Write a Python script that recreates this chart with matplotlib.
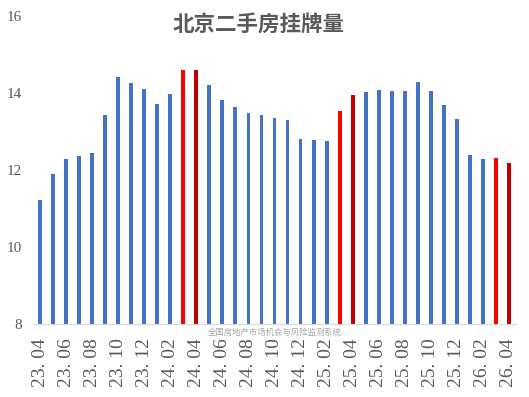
import matplotlib.pyplot as plt

plt.rcParams['font.family'] = ['Noto Sans CJK SC', 'DejaVu Sans']

months = [
    "23.04", "23.05", "23.06", "23.07", "23.08", "23.09", "23.10", "23.11", "23.12",
    "24.01", "24.02", "24.03", "24.04", "24.05", "24.06", "24.07", "24.08", "24.09",
    "24.10", "24.11", "24.12", "25.01", "25.02", "25.03", "25.04", "25.05", "25.06",
    "25.07", "25.08", "25.09", "25.10", "25.11", "25.12", "26.01", "26.02", "26.03",
    "26.04",
]
listings = [
    11.22, 11.90, 12.29, 12.36, 12.44, 13.43, 14.42, 14.26, 14.10,
    13.71, 13.97, 14.60, 14.60, 14.21, 13.82, 13.64, 13.48, 13.43,
    13.35, 13.30, 12.81, 12.78, 12.75, 13.53, 13.95, 14.03, 14.08,
    14.05, 14.05, 14.29, 14.05, 13.69, 13.32, 12.39, 12.29, 12.31,
    12.18,
]
# 3月份红色, 4月份深红
highlight_mar = {"24.03", "25.03", "26.03"}
highlight_apr = {"24.04", "25.04", "26.04"}

colors = []
for m in months:
    if m in highlight_mar:
        colors.append("#FF0000")
    elif m in highlight_apr:
        colors.append("#C00000")
    else:
        colors.append("#4472C4")

fig = plt.figure(figsize=(5.29, 3.97), dpi=100)
ax = fig.add_axes([33 / 529, 73 / 397, 483 / 529, 308 / 397])

x = list(range(len(months)))
ax.bar(x, listings, width=0.3, color=colors)

ax.set_ylim(8, 16)
ax.set_xlim(-0.55, len(months) - 0.45)
ax.set_yticks([8, 10, 12, 14, 16])
ax.set_yticklabels(["8", "10", "12", "14", "16"], family="Liberation Serif",
                   fontsize=11, color="#595959")
ax.tick_params(axis="y", length=0, pad=8)

tick_pos = x[::2]
ax.set_xticks(tick_pos)
ax.set_xticklabels([months[i].replace(".", ". ") for i in tick_pos], rotation=90,
                   family="Liberation Serif", fontsize=14, color="#595959")
ax.tick_params(axis="x", length=0, pad=10)

for side in ["top", "right", "left"]:
    ax.spines[side].set_visible(False)
ax.spines["bottom"].set_color("#D9D9D9")

fig.text(0.488, 0.937, "北京二手房挂牌量", ha="center", va="center",
         fontsize=15.5, fontweight="bold", color="#595959")
fig.text(0.52, 0.162, "全国房地产市场机会与风险监测系统", ha="center", va="center",
         fontsize=6, color="#A6A6A6")

fig.savefig("out.png", dpi=100)
